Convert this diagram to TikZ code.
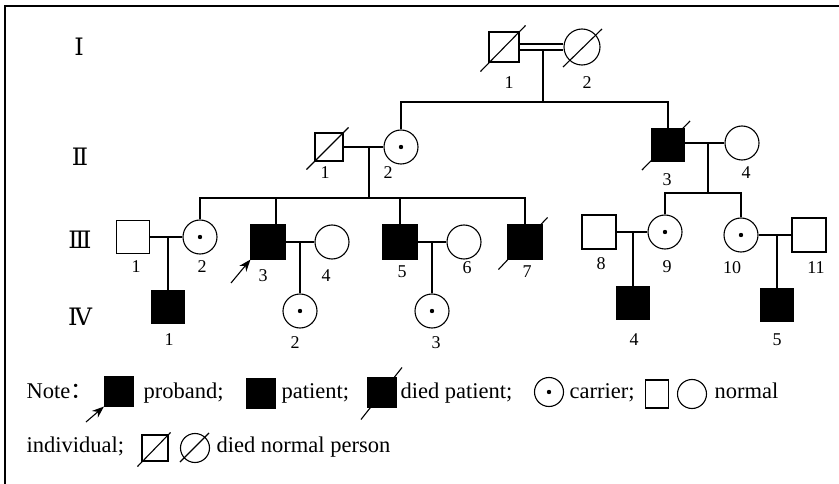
\documentclass[tikz,border=0pt]{standalone}
\usepackage{fontspec}
\setmainfont{Liberation Serif}
\newfontfamily\romfont{DejaVu Serif}
\newfontfamily\cjk{Noto Sans CJK SC}
\usetikzlibrary{arrows.meta,calc}
\begin{document}
\begin{tikzpicture}[x=1pt,y=-1pt,line width=1.1pt,
  sq/.style={draw,rectangle,inner sep=0pt,minimum size=#1},sq/.default=33,
  fsq/.style={sq=#1,fill=black},fsq/.default=33,
  circ/.style={draw,circle,inner sep=0pt,minimum size=#1},circ/.default=34,
  carr/.style={circ=#1,path picture={\fill (path picture bounding box.center) circle (2.2pt);}},carr/.default=34,
  lab/.style={font=\fontsize{18}{18}\selectfont,inner sep=0pt},
  gen/.style={font=\romfont\fontsize{24}{24}\selectfont,inner sep=0pt},
  leg/.style={font=\fontsize{22.5}{22.5}\selectfont,anchor=base west,inner sep=0pt},
  arr/.style={-{Stealth[length=12pt,width=9pt]}}]
\useasboundingbox (0,0) rectangle (839,484);
\draw[line width=2pt] (5,484) -- (5,6) -- (839,6);

% generation labels
\node[gen] (gI) at (79,47) {Ⅰ};
\node[gen] (gII) at (80,157) {Ⅱ};
\node[gen] (gIII) at (80,240) {Ⅲ};
\node[gen] (gIV) at (80,317) {Ⅳ};

% generation I
\node[sq=30] (I1) at (504,47) {};
\node[circ=36] (I2) at (582,47) {};
\draw ($(I1.south west)+(-8,9)$) -- ($(I1.north east)+(6,-6)$);
\draw ($(I2.center)+(-19,20)$) -- ($(I2.center)+(20,-18)$);
\draw ([yshift=3pt]I1.east) -- ([yshift=3pt]I2.west);
\draw ([yshift=-3pt]I1.east) -- ([yshift=-3pt]I2.west);
\node[lab] (lI1) at (509,83) {1};
\node[lab] (lI2) at (587,83) {2};
\coordinate (m1) at (543,50);
\coordinate (s1) at (543,102);

% generation II
\node[sq=28] (II1) at (329,147) {};
\node[carr] (II2) at (401,147) {};
\node[fsq] (II3) at (668,145) {};
\node[circ] (II4) at (742,143) {};
\draw ($(II1.south west)+(-8,8)$) -- ($(II1.north east)+(5,-5)$);
\draw ($(II3.south west)+(-9,8)$) -- ($(II3.north east)+(5,-7)$);
\node[lab] (lII1) at (325,173) {1};
\node[lab] (lII2) at (388,173) {2};
\node[lab] (lII3) at (667,180) {3};
\node[lab] (lII4) at (746,173) {4};
\draw (m1) -- (s1);
\draw (II2.north) -- (II2.north |- s1) -- (II3.north |- s1) -- (II3.north);
\draw (II1.east) -- (II2.west);
\draw (II3.east |- II4.west) -- (II4.west);
\coordinate (m2) at (369,147);
\coordinate (s2) at (369,198);
\coordinate (m3) at (708,143);
\coordinate (s3) at (708,193);
\draw (m2) -- (s2);
\draw (m3) -- (s3);

% generation III
\node[sq] (III1) at (133,237) {};
\node[carr] (III2) at (200,237) {};
\node[fsq=34] (III3) at (268,242) {};
\node[circ] (III4) at (332,242) {};
\node[fsq=34] (III5) at (400,242) {};
\node[circ] (III6) at (464,242) {};
\node[fsq=34] (III7) at (525,242) {};
\node[sq=34] (III8) at (599,232) {};
\node[carr] (III9) at (665,232) {};
\node[carr] (III10) at (741,235) {};
\node[sq=34] (III11) at (809,235) {};
\draw ($(III7.south west)+(-9,10)$) -- ($(III7.north east)+(5,-7)$);
\draw (III2.north) -- (III2.north |- s2) -- (III7.north |- s2) -- (III7.north);
\draw ([xshift=8pt]III3.north) -- ([xshift=8pt]III3.north |- s2);
\draw (III5.north) -- (III5.north |- s2);
\draw (III9.north) |- (s3) -| (III10.north);
\draw (III1.east) -- (III2.west);
\draw (III3.east) -- (III4.west);
\draw (III5.east) -- (III6.west);
\draw (III8.east) -- (III9.west);
\draw (III10.east) -- (III11.west);
\coordinate (pa) at (231,283);
\draw[arr] (pa) -- (III3.south west);
\node[lab] (lIII1) at (136,267) {1};
\node[lab] (lIII2) at (202,267) {2};
\node[lab] (lIII3) at (263,276) {3};
\node[lab] (lIII4) at (326,276) {4};
\node[lab] (lIII5) at (402,272) {5};
\node[lab] (lIII6) at (467,268) {6};
\node[lab] (lIII7) at (527,272) {7};
\node[lab] (lIII8) at (601,264) {8};
\node[lab] (lIII9) at (667,267) {9};
\node[lab] (lIII10) at (732,268) {10};
\node[lab] (lIII11) at (816,268) {11};
\coordinate (m4) at (168,237);
\coordinate (m5) at (300,242);
\coordinate (m6) at (432,242);
\coordinate (m7) at (633,232);
\coordinate (m8) at (777,235);

% generation IV
\node[fsq=32] (IV1) at (168,307) {};
\node[carr] (IV2) at (300,311) {};
\node[carr] (IV3) at (432,311) {};
\node[fsq=32] (IV4) at (633,303) {};
\node[fsq=32] (IV5) at (777,305) {};
\draw (m4) -- (IV1.north);
\draw (m5) -- (IV2.north);
\draw (m6) -- (IV3.north);
\draw (m7) -- (IV4.north);
\draw (m8) -- (IV5.north);
\node[lab] (lIV1) at (169,340) {1};
\node[lab] (lIV2) at (295,343) {2};
\node[lab] (lIV3) at (436,343) {3};
\node[lab] (lIV4) at (634,340) {4};
\node[lab] (lIV5) at (777,340) {5};

% legend line 1
\node[leg] (tNote) at (26,398) {Note{\cjk ：}};
\node[fsq=29] (LP) at (119,391.5) {};
\coordinate (lpa) at (86,422);
\draw[arr] (lpa) -- (LP.south west);
\node[leg] (tProband) at (143,398) {proband;};
\node[fsq=29] (LPat) at (261,393.5) {};
\node[leg] (tPatient) at (281,398) {patient;};
\node[fsq=29] (LDP) at (382,392.5) {};
\draw ($(LDP.south west)+(-6,12)$) -- ($(LDP.north east)+(5,-10)$);
\node[leg] (tDied) at (400,398) {died patient;};
\node[carr=29] (LC) at (549,392) {};
\node[leg] (tCarrier) at (569,398) {carrier;};
\node[draw,rectangle,inner sep=0pt,minimum width=23,minimum height=28] (LNs) at (657,394) {};
\node[circ=29] (LNc) at (692,394) {};
\node[leg] (tNormal) at (714,398) {normal};

% legend line 2
\node[leg] (tInd) at (26,452) {individual;};
\node[sq=26] (LDs) at (155,448) {};
\draw ($(LDs.south west)+(-4,5)$) -- ($(LDs.north east)+(2,-2)$);
\node[circ=29] (LDc) at (195,448) {};
\draw ($(LDc.center)+(-15,14)$) -- ($(LDc.center)+(14,-15)$);
\node[leg] (tDNP) at (216,452) {died normal person};
\end{tikzpicture}
\end{document}
